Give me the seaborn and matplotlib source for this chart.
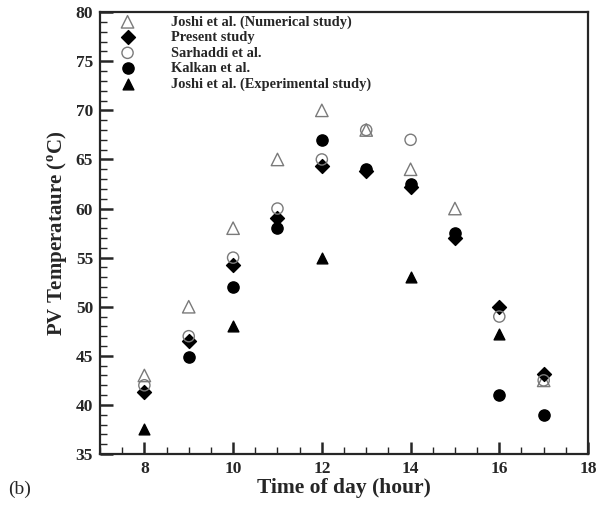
import numpy as np
import pandas as pd
import matplotlib
matplotlib.use("Agg")
import matplotlib.pyplot as plt
from matplotlib.ticker import MultipleLocator
import seaborn as sns

hours_num = [8, 9, 10, 11, 12, 13, 14, 15, 17]
joshi_num = [43, 50, 58, 65, 70, 68, 64, 60, 42.5]

hours_present = [8, 9, 10, 11, 12, 13, 14, 15, 16, 17]
present = [41.3, 46.5, 54.3, 59, 64.3, 63.8, 62.2, 57, 50, 43.2]

hours_sarh = [8, 9, 10, 11, 12, 13, 14, 16, 17]
sarhaddi = [42, 47, 55, 60, 65, 68, 67, 49, 42.5]

hours_kalkan = [9, 10, 11, 12, 13, 14, 15, 16, 17]
kalkan = [44.9, 52, 58, 67, 64, 62.5, 57.5, 41, 39]

hours_exp = [8, 10, 12, 14, 16]
joshi_exp = [37.5, 48, 55, 53, 47.2]

sns.set_style("ticks")
plt.rcParams['font.family'] = ['Liberation Serif', 'DejaVu Serif']
plt.rcParams['font.weight'] = 'bold'
plt.rcParams['mathtext.fontset'] = 'custom'
plt.rcParams['mathtext.rm'] = 'Liberation Serif:bold'
plt.rcParams['mathtext.bf'] = 'Liberation Serif:bold'

fig = plt.figure(figsize=(5.97, 5.07), dpi=100)
ax = fig.add_axes([0.1675, 0.1045, 0.8175, 0.8715])

grey = '#7a7a7a'
series = [
    (hours_num, joshi_num, '^', 'none', grey, 80, 'Joshi et al. (Numerical study)'),
    (hours_present, present, 'D', 'black', 'black', 50, 'Present study'),
    (hours_sarh, sarhaddi, 'o', 'none', grey, 65, 'Sarhaddi et al.'),
    (hours_kalkan, kalkan, 'o', 'black', 'black', 65, 'Kalkan et al.'),
    (hours_exp, joshi_exp, '^', 'black', 'black', 60, 'Joshi et al. (Experimental study)'),
]
for xs, ys, mk, fc, ec, s, lab in series:
    df = pd.DataFrame({'hour': xs, 'temp': ys})
    sns.scatterplot(data=df, x='hour', y='temp', marker=mk, s=s,
                    facecolor=fc, edgecolor=ec, linewidth=1.0,
                    label=lab, ax=ax, zorder=3)

ax.set_xlim(7, 18)
ax.set_ylim(35, 80)
ax.xaxis.set_major_locator(MultipleLocator(2))
ax.xaxis.set_minor_locator(MultipleLocator(0.5))
ax.yaxis.set_major_locator(MultipleLocator(5))
ax.yaxis.set_minor_locator(MultipleLocator(1))
ax.tick_params(which='both', direction='in', top=False, right=False,
               labelsize=12.5)
ax.tick_params(which='major', length=9, width=1.8, pad=5)
ax.tick_params(which='minor', length=5, width=1.0)
for sp in ax.spines.values():
    sp.set_linewidth(1.6)
for lbl in ax.get_xticklabels() + ax.get_yticklabels():
    lbl.set_fontweight('bold')

ax.set_xlabel('Time of day (hour)', fontsize=15.5, fontweight='bold', labelpad=1)
ax.set_ylabel(r'PV Temperataure ($^{\rm o}$C)', fontsize=15, fontweight='bold',
              labelpad=4)

leg = ax.legend(loc='upper left', frameon=False, fontsize=10.4,
                labelspacing=0.16, handletextpad=2.0, borderaxespad=0.0,
                bbox_to_anchor=(0.015, 1.006))
for t in leg.get_texts():
    t.set_fontweight('bold')

fig.text(0.013, 0.025, '(b)', fontsize=14, fontweight='normal')

fig.savefig('out.png', dpi=100)
